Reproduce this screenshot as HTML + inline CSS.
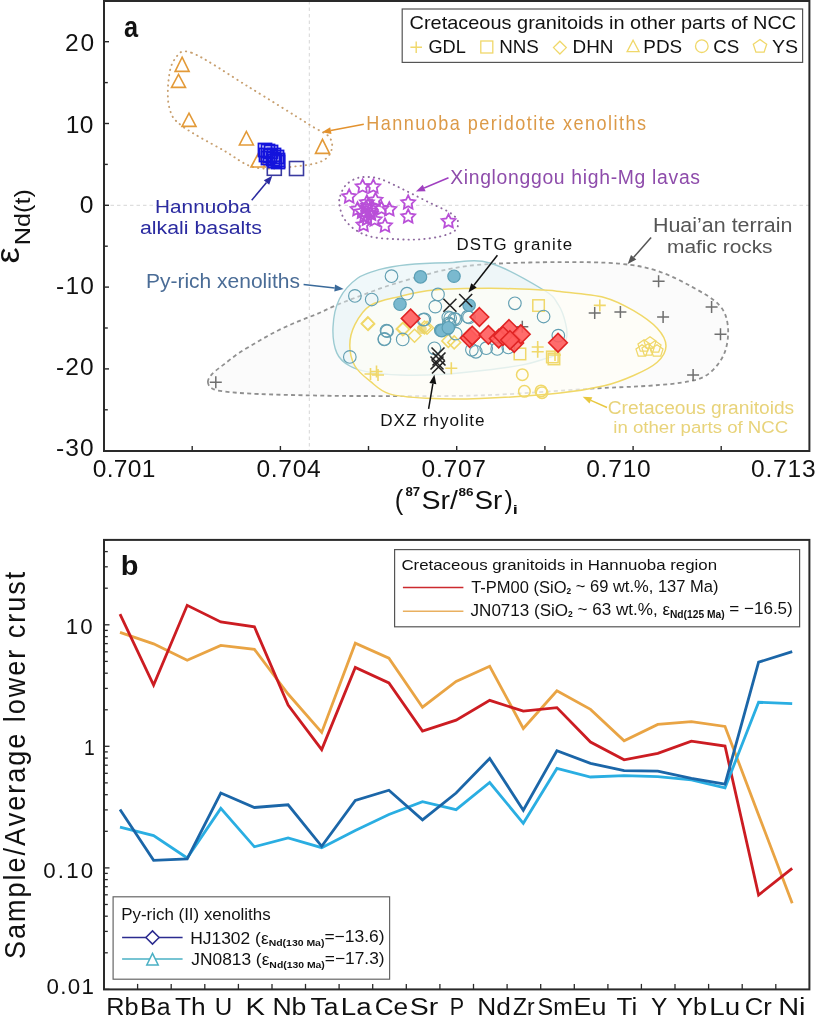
<!DOCTYPE html>
<html><head><meta charset="utf-8"><title>Figure</title>
<style>html,body{margin:0;padding:0;background:#fff;}svg{display:block;}</style>
</head><body>
<svg width="815" height="1016" viewBox="0 0 815 1016" font-family="Liberation Sans, Arial, sans-serif">
<rect width="815" height="1016" fill="#fff"/>
<path d="M207.9,382.3 C207.7,379.9 209.2,377.3 211.8,374.4 C214.4,371.4 219.0,368.2 223.6,364.6 C228.2,361.0 233.4,356.7 239.3,352.8 C245.2,348.9 252.4,344.8 258.9,341.0 C265.4,337.2 271.9,333.5 278.5,330.2 C285.1,326.9 291.6,324.2 298.2,321.4 C304.8,318.6 311.3,316.4 317.8,313.6 C324.3,310.8 330.4,307.6 337.4,304.7 C344.4,301.8 350.2,299.6 360.0,296.0 C369.8,292.4 381.5,287.6 396.1,283.2 C410.7,278.8 431.9,272.6 447.5,269.4 C463.1,266.2 471.2,265.2 490.0,264.0 C508.8,262.8 538.5,262.2 560.0,262.1 C581.5,262.0 602.7,262.1 618.9,263.6 C635.1,265.1 644.9,267.0 657.2,270.9 C669.5,274.8 682.2,281.5 692.5,287.1 C702.8,292.8 713.1,298.4 719.0,304.8 C724.9,311.2 726.8,317.5 727.8,325.4 C728.8,333.2 727.8,344.0 724.9,351.9 C722.0,359.8 716.1,367.6 710.2,372.5 C704.3,377.4 699.9,379.1 689.6,381.3 C679.3,383.5 665.0,384.6 648.3,385.8 C631.6,387.0 617.4,387.1 589.4,388.7 C561.4,390.3 518.2,394.2 480.0,395.4 C441.8,396.6 388.3,396.0 360.0,396.0 C331.7,396.0 326.9,395.7 310.0,395.4 C293.1,395.1 272.3,394.6 258.9,394.0 C245.5,393.4 237.1,392.9 229.4,392.1 C221.8,391.3 216.6,390.6 213.0,389.0 C209.4,387.4 208.1,384.7 207.9,382.3Z" fill="#fbfbfb" stroke="#909090" stroke-width="1.8" stroke-dasharray="4,3.3"/>
<path d="M333.0,327.3 C333.4,318.3 335.3,307.2 339.4,299.0 C343.5,290.8 350.7,283.2 357.5,278.3 C364.3,273.4 371.8,271.7 380.0,269.4 C388.2,267.1 395.8,265.8 407.0,264.7 C418.2,263.6 433.7,263.0 447.5,262.7 C461.3,262.4 474.0,258.4 490.0,263.0 C506.0,267.6 532.2,283.1 543.6,290.0 C555.0,296.9 554.6,299.1 558.3,304.7 C562.0,310.3 564.4,318.2 565.7,323.9 C567.1,329.5 567.6,333.7 566.4,338.6 C565.2,343.5 562.1,349.9 558.3,353.3 C554.5,356.7 549.7,357.2 543.6,359.2 C537.5,361.2 531.3,363.3 521.5,365.1 C511.7,366.9 498.3,368.6 484.7,370.2 C471.1,371.8 454.1,373.7 440.0,374.5 C425.9,375.3 411.6,375.4 400.0,375.0 C388.4,374.6 378.8,373.9 370.4,372.4 C362.0,370.9 355.4,369.2 349.8,366.0 C344.2,362.8 339.7,359.6 336.9,353.1 C334.1,346.7 332.6,336.3 333.0,327.3Z" fill="#e2f1f5" fill-opacity="0.5" stroke="#9ccbd2" stroke-width="1.4"/>
<path d="M349.8,345.3 C349.8,338.4 351.5,331.4 354.9,324.7 C358.3,318.0 362.9,310.1 370.4,305.4 C377.9,300.7 389.4,299.0 400.0,296.4 C410.6,293.8 419.0,291.4 434.0,290.0 C449.0,288.6 471.7,288.3 490.0,288.3 C508.3,288.3 531.9,289.5 543.6,290.0 C555.3,290.5 549.9,290.3 560.0,291.5 C570.1,292.7 591.9,294.2 604.2,297.4 C616.5,300.6 624.8,305.5 633.6,310.7 C642.4,315.9 651.8,322.4 657.2,328.3 C662.6,334.2 666.0,340.4 666.0,346.0 C666.0,351.6 662.6,357.3 657.2,362.2 C651.8,367.1 642.4,371.6 633.6,375.5 C624.8,379.4 616.5,382.9 604.2,385.8 C591.9,388.7 580.7,391.0 560.0,393.1 C539.3,395.2 502.3,397.6 480.0,398.5 C457.7,399.4 441.4,399.1 426.3,398.3 C411.2,397.5 398.7,396.7 389.4,393.9 C380.1,391.1 376.1,386.0 370.4,381.4 C364.6,376.8 358.3,372.0 354.9,366.0 C351.5,360.0 349.8,352.2 349.8,345.3Z" fill="#fffef6" fill-opacity="0.72" stroke="#f0d868" stroke-width="1.5"/>
<line x1="309.3" y1="1.0" x2="309.3" y2="451.0" stroke="#d6d6d6" stroke-width="1" stroke-dasharray="3.5,3"/>
<line x1="104" y1="205.3" x2="809.4" y2="205.3" stroke="#d6d6d6" stroke-width="1" stroke-dasharray="3.5,3"/>
<path d="M191.7,52.8 C204.0,57.3 228.6,74.6 248.2,86.6 C267.8,98.6 296.0,116.3 309.5,124.7 C323.0,133.1 325.5,132.6 329.1,136.9 C332.8,141.2 332.6,146.4 331.4,150.4 C330.2,154.4 327.5,158.6 321.8,161.2 C316.1,163.8 308.2,165.1 297.2,166.2 C286.1,167.3 267.8,170.2 255.5,167.6 C243.2,165.0 235.9,157.3 223.6,150.4 C211.3,143.5 190.9,132.8 181.9,125.9 C172.9,119.0 171.8,116.1 169.6,108.7 C167.3,101.3 167.6,89.9 168.4,81.7 C169.2,73.5 170.6,64.4 174.5,59.6 C178.4,54.8 179.4,48.3 191.7,52.8Z" fill="none" stroke="#c8a070" stroke-width="1.9" stroke-dasharray="0.3,5" stroke-linecap="round"/>
<path d="M340.3,195.8 C341.3,192.7 342.9,188.4 345.5,185.5 C348.1,182.6 352.1,180.0 355.8,178.6 C359.5,177.2 363.5,176.8 367.8,176.9 C372.1,177.0 376.4,177.7 381.5,179.4 C386.6,181.1 393.0,184.5 398.7,187.2 C404.4,189.9 410.2,192.9 415.9,195.8 C421.6,198.7 427.4,201.6 433.1,204.4 C438.8,207.2 446.2,210.1 450.3,212.9 C454.4,215.8 457.3,218.5 458.0,221.5 C458.7,224.5 457.7,228.3 454.7,230.8 C451.7,233.3 445.8,235.1 440.0,236.5 C434.2,237.9 426.9,238.8 420.0,239.3 C413.1,239.8 406.6,239.7 398.7,239.3 C390.8,238.9 380.0,238.6 372.9,237.1 C365.8,235.6 360.7,233.3 355.8,230.1 C350.9,226.9 346.4,222.4 343.7,218.1 C341.0,213.8 340.0,208.1 339.4,204.4 C338.8,200.7 339.3,199.0 340.3,195.8Z" fill="none" stroke="#8f6aa0" stroke-width="1.9" stroke-dasharray="0.3,5" stroke-linecap="round"/>
<path d="M182.1,57.2 L189.1,71.4 L175.1,71.4Z" fill="none" stroke="#e39a38" stroke-width="1.6"/>
<path d="M178.5,74.4 L185.5,87.4 L171.5,87.4Z" fill="none" stroke="#e39a38" stroke-width="1.6"/>
<path d="M189.0,113.1 L196.0,126.4 L182.0,126.4Z" fill="none" stroke="#e39a38" stroke-width="1.6"/>
<path d="M246.4,131.5 L253.4,145.0 L239.4,145.0Z" fill="none" stroke="#e39a38" stroke-width="1.6"/>
<path d="M322.5,139.4 L329.5,153.4 L315.5,153.4Z" fill="none" stroke="#e39a38" stroke-width="1.6"/>
<path d="M258.0,154.0 L265.0,167.0 L251.0,167.0Z" fill="none" stroke="#e39a38" stroke-width="1.6"/>
<rect x="267.3" y="161.3" width="14" height="14" fill="none" stroke="#3a3aa0" stroke-width="1.6"/>
<rect x="289.5" y="161.5" width="14" height="14" fill="none" stroke="#3a3aa0" stroke-width="1.6"/>
<rect x="258.5" y="143.5" width="13" height="13" fill="none" stroke="#1414dc" stroke-width="1.8"/>
<rect x="261.5" y="144.5" width="13" height="13" fill="none" stroke="#1414dc" stroke-width="1.8"/>
<rect x="264.5" y="145.5" width="13" height="13" fill="none" stroke="#1414dc" stroke-width="1.8"/>
<rect x="259.5" y="148.5" width="13" height="13" fill="none" stroke="#1414dc" stroke-width="1.8"/>
<rect x="263.5" y="149.5" width="13" height="13" fill="none" stroke="#1414dc" stroke-width="1.8"/>
<rect x="267.5" y="148.5" width="13" height="13" fill="none" stroke="#1414dc" stroke-width="1.8"/>
<rect x="270.5" y="150.5" width="13" height="13" fill="none" stroke="#1414dc" stroke-width="1.8"/>
<rect x="266.5" y="152.5" width="13" height="13" fill="none" stroke="#1414dc" stroke-width="1.8"/>
<rect x="271.5" y="153.5" width="13" height="13" fill="none" stroke="#1414dc" stroke-width="1.8"/>
<rect x="261.5" y="151.5" width="13" height="13" fill="none" stroke="#1414dc" stroke-width="1.8"/>
<rect x="268.5" y="154.5" width="13" height="13" fill="none" stroke="#1414dc" stroke-width="1.8"/>
<rect x="271.5" y="155.5" width="13" height="13" fill="none" stroke="#1414dc" stroke-width="1.8"/>
<polygon points="362.6,179.5 364.7,183.8 369.5,184.5 366.1,187.9 366.9,192.7 362.6,190.5 358.3,192.7 359.1,187.9 355.7,184.5 360.5,183.8" fill="none" stroke="#b94fd8" stroke-width="1.8" stroke-linejoin="miter"/>
<polygon points="373.3,179.5 375.4,183.8 380.2,184.5 376.8,187.9 377.6,192.7 373.3,190.5 369.0,192.7 369.8,187.9 366.4,184.5 371.2,183.8" fill="none" stroke="#b94fd8" stroke-width="1.8" stroke-linejoin="miter"/>
<polygon points="349.2,189.3 351.3,193.6 356.1,194.3 352.7,197.7 353.5,202.5 349.2,200.2 344.9,202.5 345.7,197.7 342.3,194.3 347.1,193.6" fill="none" stroke="#b94fd8" stroke-width="1.8" stroke-linejoin="miter"/>
<polygon points="366.9,195.3 369.0,199.6 373.8,200.3 370.4,203.7 371.2,208.5 366.9,206.2 362.6,208.5 363.4,203.7 360.0,200.3 364.8,199.6" fill="none" stroke="#b94fd8" stroke-width="1.8" stroke-linejoin="miter"/>
<polygon points="375.5,192.8 377.6,197.1 382.4,197.8 379.0,201.2 379.8,206.0 375.5,203.8 371.2,206.0 372.0,201.2 368.6,197.8 373.4,197.1" fill="none" stroke="#b94fd8" stroke-width="1.8" stroke-linejoin="miter"/>
<polygon points="357.5,202.2 359.6,206.5 364.4,207.2 361.0,210.6 361.8,215.4 357.5,213.2 353.2,215.4 354.0,210.6 350.6,207.2 355.4,206.5" fill="none" stroke="#b94fd8" stroke-width="1.8" stroke-linejoin="miter"/>
<polygon points="369.5,203.9 371.6,208.2 376.4,208.9 373.0,212.3 373.8,217.1 369.5,214.8 365.2,217.1 366.0,212.3 362.6,208.9 367.4,208.2" fill="none" stroke="#b94fd8" stroke-width="1.8" stroke-linejoin="miter"/>
<polygon points="381.5,201.4 383.6,205.7 388.4,206.4 385.0,209.8 385.8,214.6 381.5,212.3 377.2,214.6 378.0,209.8 374.6,206.4 379.4,205.7" fill="none" stroke="#b94fd8" stroke-width="1.8" stroke-linejoin="miter"/>
<polygon points="389.3,202.2 391.4,206.5 396.2,207.2 392.8,210.6 393.6,215.4 389.3,213.2 385.0,215.4 385.8,210.6 382.4,207.2 387.2,206.5" fill="none" stroke="#b94fd8" stroke-width="1.8" stroke-linejoin="miter"/>
<polygon points="364.4,209.1 366.5,213.4 371.3,214.1 367.9,217.5 368.7,222.3 364.4,220.1 360.1,222.3 360.9,217.5 357.5,214.1 362.3,213.4" fill="none" stroke="#b94fd8" stroke-width="1.8" stroke-linejoin="miter"/>
<polygon points="374.7,212.5 376.8,216.8 381.6,217.5 378.2,220.9 379.0,225.7 374.7,223.5 370.4,225.7 371.2,220.9 367.8,217.5 372.6,216.8" fill="none" stroke="#b94fd8" stroke-width="1.8" stroke-linejoin="miter"/>
<polygon points="363.5,217.7 365.6,222.0 370.4,222.7 367.0,226.1 367.8,230.9 363.5,228.7 359.2,230.9 360.0,226.1 356.6,222.7 361.4,222.0" fill="none" stroke="#b94fd8" stroke-width="1.8" stroke-linejoin="miter"/>
<polygon points="385.0,218.5 387.1,222.8 391.9,223.5 388.5,226.9 389.3,231.7 385.0,229.5 380.7,231.7 381.5,226.9 378.1,223.5 382.9,222.8" fill="none" stroke="#b94fd8" stroke-width="1.8" stroke-linejoin="miter"/>
<polygon points="408.2,195.3 410.3,199.6 415.1,200.3 411.7,203.7 412.5,208.5 408.2,206.2 403.9,208.5 404.7,203.7 401.3,200.3 406.1,199.6" fill="none" stroke="#b94fd8" stroke-width="1.8" stroke-linejoin="miter"/>
<polygon points="408.2,209.4 410.3,213.7 415.1,214.4 411.7,217.8 412.5,222.6 408.2,220.3 403.9,222.6 404.7,217.8 401.3,214.4 406.1,213.7" fill="none" stroke="#b94fd8" stroke-width="1.8" stroke-linejoin="miter"/>
<polygon points="448.5,214.2 450.6,218.5 455.4,219.2 452.0,222.6 452.8,227.4 448.5,225.2 444.2,227.4 445.0,222.6 441.6,219.2 446.4,218.5" fill="none" stroke="#b94fd8" stroke-width="1.8" stroke-linejoin="miter"/>
<polygon points="366.0,200.7 368.1,205.0 372.9,205.7 369.5,209.1 370.3,213.9 366.0,211.7 361.7,213.9 362.5,209.1 359.1,205.7 363.9,205.0" fill="none" stroke="#b94fd8" stroke-width="1.8" stroke-linejoin="miter"/>
<polygon points="371.0,206.7 373.1,211.0 377.9,211.7 374.5,215.1 375.3,219.9 371.0,217.7 366.7,219.9 367.5,215.1 364.1,211.7 368.9,211.0" fill="none" stroke="#b94fd8" stroke-width="1.8" stroke-linejoin="miter"/>
<polygon points="368.0,198.7 370.1,203.0 374.9,203.7 371.5,207.1 372.3,211.9 368.0,209.7 363.7,211.9 364.5,207.1 361.1,203.7 365.9,203.0" fill="none" stroke="#b94fd8" stroke-width="1.8" stroke-linejoin="miter"/>
<polygon points="362.0,204.7 364.1,209.0 368.9,209.7 365.5,213.1 366.3,217.9 362.0,215.7 357.7,217.9 358.5,213.1 355.1,209.7 359.9,209.0" fill="none" stroke="#b94fd8" stroke-width="1.8" stroke-linejoin="miter"/>
<polygon points="372.0,199.7 374.1,204.0 378.9,204.7 375.5,208.1 376.3,212.9 372.0,210.7 367.7,212.9 368.5,208.1 365.1,204.7 369.9,204.0" fill="none" stroke="#b94fd8" stroke-width="1.8" stroke-linejoin="miter"/>
<polygon points="367.0,211.7 369.1,216.0 373.9,216.7 370.5,220.1 371.3,224.9 367.0,222.7 362.7,224.9 363.5,220.1 360.1,216.7 364.9,216.0" fill="none" stroke="#b94fd8" stroke-width="1.8" stroke-linejoin="miter"/>
<path d="M209.8,382.2H221.8M215.8,376.2V388.2" stroke="#6f6f6f" stroke-width="1.5" fill="none"/>
<path d="M652.6,281.2H664.6M658.6,275.2V287.2" stroke="#6f6f6f" stroke-width="1.5" fill="none"/>
<path d="M588.7,313.0H600.7M594.7,307.0V319.0" stroke="#6f6f6f" stroke-width="1.5" fill="none"/>
<path d="M614.4,312.1H626.4M620.4,306.1V318.1" stroke="#6f6f6f" stroke-width="1.5" fill="none"/>
<path d="M657.1,317.1H669.1M663.1,311.1V323.1" stroke="#6f6f6f" stroke-width="1.5" fill="none"/>
<path d="M705.6,307.1H717.6M711.6,301.1V313.1" stroke="#6f6f6f" stroke-width="1.5" fill="none"/>
<path d="M714.5,334.2H726.5M720.5,328.2V340.2" stroke="#6f6f6f" stroke-width="1.5" fill="none"/>
<path d="M687.1,374.9H699.1M693.1,368.9V380.9" stroke="#6f6f6f" stroke-width="1.5" fill="none"/>
<path d="M516.3,326.8H528.3M522.3,320.8V332.8" stroke="#6f6f6f" stroke-width="1.5" fill="none"/>
<path d="M368.1,317.5 L374.6,324.0 L368.1,330.5 L361.6,324.0Z" fill="none" fill-opacity="1" stroke="#f0d86a" stroke-width="1.5"/>
<path d="M367.8,316.9 L374.3,323.4 L367.8,329.9 L361.3,323.4Z" fill="none" fill-opacity="1" stroke="#f0d86a" stroke-width="1.5"/>
<path d="M402.7,322.6 L409.2,329.1 L402.7,335.6 L396.2,329.1Z" fill="none" fill-opacity="1" stroke="#f0d86a" stroke-width="1.5"/>
<path d="M414.5,329.3 L421.0,335.8 L414.5,342.3 L408.0,335.8Z" fill="none" fill-opacity="1" stroke="#f0d86a" stroke-width="1.5"/>
<path d="M427.0,321.2 L433.5,327.7 L427.0,334.2 L420.5,327.7Z" fill="none" fill-opacity="1" stroke="#f0d86a" stroke-width="1.5"/>
<path d="M448.3,334.4 L454.8,340.9 L448.3,347.4 L441.8,340.9Z" fill="none" fill-opacity="1" stroke="#f0d86a" stroke-width="1.5"/>
<path d="M454.2,335.9 L460.7,342.4 L454.2,348.9 L447.7,342.4Z" fill="none" fill-opacity="1" stroke="#f0d86a" stroke-width="1.5"/>
<path d="M403.6,322.3 L410.1,328.8 L403.6,335.3 L397.1,328.8Z" fill="none" fill-opacity="1" stroke="#f0d86a" stroke-width="1.5"/>
<path d="M424.5,321.0 L431.0,327.5 L424.5,334.0 L418.0,327.5Z" fill="none" fill-opacity="1" stroke="#f0d86a" stroke-width="1.5"/>
<circle cx="421.8" cy="329.1" r="5" fill="#e8d060" fill-opacity="0.7"/>
<rect x="532.8" y="299.8" width="11.5" height="11.5" fill="none" stroke="#f0d86a" stroke-width="1.5"/>
<rect x="514.2" y="348.2" width="11.5" height="11.5" fill="none" stroke="#f0d86a" stroke-width="1.5"/>
<rect x="546.6" y="351.2" width="11.5" height="11.5" fill="none" stroke="#f0d86a" stroke-width="1.5"/>
<rect x="548.2" y="353.2" width="11.5" height="11.5" fill="none" stroke="#f0d86a" stroke-width="1.5"/>
<path d="M531.7,351.8H543.7M537.7,345.8V357.8" stroke="#f0d86a" stroke-width="1.6" fill="none"/>
<path d="M531.7,347.0H543.7M537.7,341.0V353.0" stroke="#f0d86a" stroke-width="1.6" fill="none"/>
<path d="M445.3,368.2H457.3M451.3,362.2V374.2" stroke="#f0d86a" stroke-width="1.6" fill="none"/>
<path d="M364.5,374.0H376.5M370.5,368.0V380.0" stroke="#f0d86a" stroke-width="1.6" fill="none"/>
<path d="M370.5,371.5H382.5M376.5,365.5V377.5" stroke="#f0d86a" stroke-width="1.6" fill="none"/>
<path d="M372.0,375.0H384.0M378.0,369.0V381.0" stroke="#f0d86a" stroke-width="1.6" fill="none"/>
<path d="M593.8,305.4H605.8M599.8,299.4V311.4" stroke="#f0d86a" stroke-width="1.6" fill="none"/>
<path d="M549.0,355.0H561.0M555.0,349.0V361.0" stroke="#f0d86a" stroke-width="1.6" fill="none"/>
<circle cx="522.3" cy="374.7" r="5.8" fill="none" stroke="#f0d86a" stroke-width="1.5"/>
<circle cx="524.4" cy="391.3" r="5.8" fill="none" stroke="#f0d86a" stroke-width="1.5"/>
<circle cx="542.0" cy="392.7" r="5.8" fill="none" stroke="#f0d86a" stroke-width="1.5"/>
<circle cx="541.0" cy="391.0" r="5.8" fill="none" stroke="#f0d86a" stroke-width="1.5"/>
<polygon points="644.0,339.7 650.0,344.1 647.7,351.1 640.3,351.1 638.0,344.1" fill="none" stroke="#f0d86a" stroke-width="1.3"/>
<polygon points="650.0,336.7 656.0,341.1 653.7,348.1 646.3,348.1 644.0,341.1" fill="none" stroke="#f0d86a" stroke-width="1.3"/>
<polygon points="655.0,340.7 661.0,345.1 658.7,352.1 651.3,352.1 649.0,345.1" fill="none" stroke="#f0d86a" stroke-width="1.3"/>
<polygon points="648.0,343.7 654.0,348.1 651.7,355.1 644.3,355.1 642.0,348.1" fill="none" stroke="#f0d86a" stroke-width="1.3"/>
<polygon points="657.0,344.7 663.0,349.1 660.7,356.1 653.3,356.1 651.0,349.1" fill="none" stroke="#f0d86a" stroke-width="1.3"/>
<polygon points="642.0,344.7 648.0,349.1 645.7,356.1 638.3,356.1 636.0,349.1" fill="none" stroke="#f0d86a" stroke-width="1.3"/>
<circle cx="391.5" cy="276.2" r="6.3" fill="none" stroke="#629fb2" stroke-width="1.15"/>
<circle cx="354.9" cy="295.9" r="6.3" fill="none" stroke="#629fb2" stroke-width="1.15"/>
<circle cx="371.7" cy="299.5" r="6.3" fill="none" stroke="#629fb2" stroke-width="1.15"/>
<circle cx="387.1" cy="331.2" r="6.3" fill="none" stroke="#629fb2" stroke-width="1.15"/>
<circle cx="384.5" cy="338.9" r="6.3" fill="none" stroke="#629fb2" stroke-width="1.15"/>
<circle cx="349.8" cy="356.9" r="6.3" fill="none" stroke="#629fb2" stroke-width="1.15"/>
<circle cx="407.0" cy="293.7" r="6.3" fill="none" stroke="#629fb2" stroke-width="1.15"/>
<circle cx="438.0" cy="294.4" r="6.3" fill="none" stroke="#629fb2" stroke-width="1.15"/>
<circle cx="435.3" cy="306.6" r="6.3" fill="none" stroke="#629fb2" stroke-width="1.15"/>
<circle cx="424.5" cy="319.4" r="6.3" fill="none" stroke="#629fb2" stroke-width="1.15"/>
<circle cx="450.2" cy="318.0" r="6.3" fill="none" stroke="#629fb2" stroke-width="1.15"/>
<circle cx="455.6" cy="319.4" r="6.3" fill="none" stroke="#629fb2" stroke-width="1.15"/>
<circle cx="448.8" cy="323.4" r="6.3" fill="none" stroke="#629fb2" stroke-width="1.15"/>
<circle cx="386.5" cy="330.6" r="6.3" fill="none" stroke="#629fb2" stroke-width="1.15"/>
<circle cx="384.3" cy="339.4" r="6.3" fill="none" stroke="#629fb2" stroke-width="1.15"/>
<circle cx="402.7" cy="339.4" r="6.3" fill="none" stroke="#629fb2" stroke-width="1.15"/>
<circle cx="423.3" cy="319.6" r="6.3" fill="none" stroke="#629fb2" stroke-width="1.15"/>
<circle cx="448.3" cy="317.4" r="6.3" fill="none" stroke="#629fb2" stroke-width="1.15"/>
<circle cx="454.2" cy="318.8" r="6.3" fill="none" stroke="#629fb2" stroke-width="1.15"/>
<circle cx="449.8" cy="324.7" r="6.3" fill="none" stroke="#629fb2" stroke-width="1.15"/>
<circle cx="455.7" cy="333.6" r="6.3" fill="none" stroke="#629fb2" stroke-width="1.15"/>
<circle cx="434.4" cy="348.3" r="6.3" fill="none" stroke="#629fb2" stroke-width="1.15"/>
<circle cx="469.0" cy="317.4" r="6.3" fill="none" stroke="#629fb2" stroke-width="1.15"/>
<circle cx="471.9" cy="349.8" r="6.3" fill="none" stroke="#629fb2" stroke-width="1.15"/>
<circle cx="514.9" cy="303.3" r="6.3" fill="none" stroke="#629fb2" stroke-width="1.15"/>
<circle cx="543.6" cy="316.5" r="6.3" fill="none" stroke="#629fb2" stroke-width="1.15"/>
<circle cx="558.3" cy="335.6" r="6.3" fill="none" stroke="#629fb2" stroke-width="1.15"/>
<circle cx="475.9" cy="351.8" r="6.3" fill="none" stroke="#629fb2" stroke-width="1.15"/>
<circle cx="486.2" cy="348.2" r="6.3" fill="none" stroke="#629fb2" stroke-width="1.15"/>
<circle cx="497.2" cy="348.9" r="6.3" fill="none" stroke="#629fb2" stroke-width="1.15"/>
<circle cx="508.3" cy="347.4" r="6.3" fill="none" stroke="#629fb2" stroke-width="1.15"/>
<circle cx="467.7" cy="316.7" r="6.3" fill="none" stroke="#629fb2" stroke-width="1.15"/>
<circle cx="420.5" cy="276.9" r="6.2" fill="#7ab9cf" stroke="#5b9fb5" stroke-width="1.2"/>
<circle cx="454.0" cy="276.2" r="6.2" fill="#7ab9cf" stroke="#5b9fb5" stroke-width="1.2"/>
<circle cx="400.0" cy="304.3" r="6.2" fill="#7ab9cf" stroke="#5b9fb5" stroke-width="1.2"/>
<circle cx="469.1" cy="305.2" r="6.2" fill="#7ab9cf" stroke="#5b9fb5" stroke-width="1.2"/>
<circle cx="440.7" cy="330.2" r="6.2" fill="#7ab9cf" stroke="#5b9fb5" stroke-width="1.2"/>
<circle cx="447.5" cy="328.8" r="6.2" fill="#7ab9cf" stroke="#5b9fb5" stroke-width="1.2"/>
<circle cx="441.7" cy="330.6" r="6.2" fill="#7ab9cf" stroke="#5b9fb5" stroke-width="1.2"/>
<circle cx="448.3" cy="327.7" r="6.2" fill="#7ab9cf" stroke="#5b9fb5" stroke-width="1.2"/>
<path d="M443.4,298.7L456.4,311.7M456.4,298.7L443.4,311.7" stroke="#222" stroke-width="1.6" fill="none"/>
<path d="M459.2,294.0L472.2,307.0M472.2,294.0L459.2,307.0" stroke="#222" stroke-width="1.6" fill="none"/>
<path d="M431.5,347.5L444.5,360.5M444.5,347.5L431.5,360.5" stroke="#222" stroke-width="1.6" fill="none"/>
<path d="M432.5,352.5L445.5,365.5M445.5,352.5L432.5,365.5" stroke="#222" stroke-width="1.6" fill="none"/>
<path d="M430.5,356.5L443.5,369.5M443.5,356.5L430.5,369.5" stroke="#222" stroke-width="1.6" fill="none"/>
<path d="M432.0,360.5L445.0,373.5M445.0,360.5L432.0,373.5" stroke="#222" stroke-width="1.6" fill="none"/>
<path d="M410.6,309.1 L419.9,318.4 L410.6,327.7 L401.3,318.4Z" fill="#ff5c5c" fill-opacity="0.9" stroke="#e02424" stroke-width="1.6"/>
<path d="M479.4,307.7 L488.7,317.0 L479.4,326.3 L470.1,317.0Z" fill="#ff5c5c" fill-opacity="0.9" stroke="#e02424" stroke-width="1.6"/>
<path d="M469.7,328.7 L479.0,338.0 L469.7,347.3 L460.4,338.0Z" fill="#ff5c5c" fill-opacity="0.9" stroke="#e02424" stroke-width="1.6"/>
<path d="M472.2,326.3 L481.5,335.6 L472.2,344.9 L462.9,335.6Z" fill="#ff5c5c" fill-opacity="0.9" stroke="#e02424" stroke-width="1.6"/>
<path d="M488.4,325.6 L497.7,334.9 L488.4,344.2 L479.1,334.9Z" fill="#ff5c5c" fill-opacity="0.9" stroke="#e02424" stroke-width="1.6"/>
<path d="M498.7,329.3 L508.0,338.6 L498.7,347.9 L489.4,338.6Z" fill="#ff5c5c" fill-opacity="0.9" stroke="#e02424" stroke-width="1.6"/>
<path d="M509.0,319.7 L518.3,329.0 L509.0,338.3 L499.7,329.0Z" fill="#ff5c5c" fill-opacity="0.9" stroke="#e02424" stroke-width="1.6"/>
<path d="M514.2,333.7 L523.5,343.0 L514.2,352.3 L504.9,343.0Z" fill="#ff5c5c" fill-opacity="0.9" stroke="#e02424" stroke-width="1.6"/>
<path d="M520.8,324.9 L530.1,334.2 L520.8,343.5 L511.5,334.2Z" fill="#ff5c5c" fill-opacity="0.9" stroke="#e02424" stroke-width="1.6"/>
<path d="M503.0,326.7 L512.3,336.0 L503.0,345.3 L493.7,336.0Z" fill="#ff5c5c" fill-opacity="0.9" stroke="#e02424" stroke-width="1.6"/>
<path d="M510.0,330.7 L519.3,340.0 L510.0,349.3 L500.7,340.0Z" fill="#ff5c5c" fill-opacity="0.9" stroke="#e02424" stroke-width="1.6"/>
<path d="M558.0,333.4 L567.3,342.7 L558.0,352.0 L548.7,342.7Z" fill="#ff5c5c" fill-opacity="0.9" stroke="#e02424" stroke-width="1.6"/>
<line x1="363.8" y1="124.2" x2="330.8" y2="130.6" stroke="#e3922e" stroke-width="1.5"/>
<path d="M322.0,132.3 L330.2,127.2 L331.5,134.0Z" fill="#e3922e"/>
<line x1="251.7" y1="200.2" x2="266.5" y2="182.6" stroke="#2a2aa0" stroke-width="1.5"/>
<path d="M272.3,175.7 L269.2,184.8 L263.8,180.3Z" fill="#2a2aa0"/>
<line x1="448.5" y1="177.7" x2="424.2" y2="188.0" stroke="#a040c0" stroke-width="1.5"/>
<path d="M415.9,191.5 L422.8,184.8 L425.6,191.2Z" fill="#a040c0"/>
<line x1="303.6" y1="284.5" x2="334.7" y2="287.9" stroke="#3a6a9a" stroke-width="1.5"/>
<path d="M343.6,288.9 L334.3,291.4 L335.0,284.4Z" fill="#3a6a9a"/>
<line x1="497.4" y1="255.2" x2="473.9" y2="285.3" stroke="#111" stroke-width="1.5"/>
<path d="M468.4,292.4 L471.2,283.2 L476.7,287.5Z" fill="#111"/>
<line x1="651.1" y1="237.5" x2="633.7" y2="257.3" stroke="#555" stroke-width="1.5"/>
<path d="M627.7,264.0 L631.0,254.9 L636.3,259.6Z" fill="#555"/>
<line x1="428.6" y1="408.9" x2="432.9" y2="383.7" stroke="#111" stroke-width="1.5"/>
<path d="M434.4,374.8 L436.3,384.3 L429.4,383.1Z" fill="#111"/>
<line x1="607.0" y1="407.5" x2="590.9" y2="400.4" stroke="#e8c840" stroke-width="1.5"/>
<path d="M582.7,396.7 L592.3,397.2 L589.5,403.6Z" fill="#e8c840"/>
<rect x="402.2" y="9" width="400.4" height="53.4" fill="#fff" stroke="#555" stroke-width="1.2"/>
<path d="M410.4,47.3H422.0M416.2,41.5V53.1" stroke="#f0d86a" stroke-width="1.4" fill="none"/>
<rect x="480.8" y="41.0" width="12" height="12" fill="none" stroke="#f0d86a" stroke-width="1.3"/>
<path d="M559.9,41.2 L566.3,47.6 L559.9,54.0 L553.5,47.6Z" fill="none" fill-opacity="1" stroke="#f0d86a" stroke-width="1.3"/>
<path d="M633.1,40.2 L639.1,51.6 L627.1,51.6Z" fill="none" stroke="#f0d86a" stroke-width="1.3" stroke-linejoin="miter"/>
<circle cx="701.8" cy="46.2" r="6.3" fill="none" stroke="#f0d86a" stroke-width="1.3"/>
<polygon points="760.0,39.5 766.7,44.3 764.1,52.2 755.9,52.2 753.3,44.3" fill="none" stroke="#f0d86a" stroke-width="1.3"/>
<rect x="104" y="1.0" width="705.4" height="450.0" fill="none" stroke="#2a2a2a" stroke-width="2"/>
<line x1="104" y1="0.8" x2="107.8" y2="0.8" stroke="#2a2a2a" stroke-width="1.4"/>
<line x1="104" y1="41.7" x2="109" y2="41.7" stroke="#2a2a2a" stroke-width="1.4"/>
<line x1="104" y1="82.6" x2="107.8" y2="82.6" stroke="#2a2a2a" stroke-width="1.4"/>
<line x1="104" y1="123.5" x2="109" y2="123.5" stroke="#2a2a2a" stroke-width="1.4"/>
<line x1="104" y1="164.4" x2="107.8" y2="164.4" stroke="#2a2a2a" stroke-width="1.4"/>
<line x1="104" y1="205.3" x2="109" y2="205.3" stroke="#2a2a2a" stroke-width="1.4"/>
<line x1="104" y1="246.2" x2="107.8" y2="246.2" stroke="#2a2a2a" stroke-width="1.4"/>
<line x1="104" y1="287.1" x2="109" y2="287.1" stroke="#2a2a2a" stroke-width="1.4"/>
<line x1="104" y1="328.0" x2="107.8" y2="328.0" stroke="#2a2a2a" stroke-width="1.4"/>
<line x1="104" y1="368.9" x2="109" y2="368.9" stroke="#2a2a2a" stroke-width="1.4"/>
<line x1="104" y1="409.8" x2="107.8" y2="409.8" stroke="#2a2a2a" stroke-width="1.4"/>
<line x1="104" y1="450.7" x2="109" y2="450.7" stroke="#2a2a2a" stroke-width="1.4"/>
<line x1="192.2" y1="451.0" x2="192.2" y2="446.0" stroke="#2a2a2a" stroke-width="1.4"/>
<line x1="280.4" y1="451.0" x2="280.4" y2="446.0" stroke="#2a2a2a" stroke-width="1.4"/>
<line x1="368.5" y1="451.0" x2="368.5" y2="446.0" stroke="#2a2a2a" stroke-width="1.4"/>
<line x1="456.7" y1="451.0" x2="456.7" y2="446.0" stroke="#2a2a2a" stroke-width="1.4"/>
<line x1="544.9" y1="451.0" x2="544.9" y2="446.0" stroke="#2a2a2a" stroke-width="1.4"/>
<line x1="633.1" y1="451.0" x2="633.1" y2="446.0" stroke="#2a2a2a" stroke-width="1.4"/>
<line x1="721.2" y1="451.0" x2="721.2" y2="446.0" stroke="#2a2a2a" stroke-width="1.4"/>
<g transform="translate(19,263.5) rotate(-90)">
<text x="0" y="0" font-size="34" fill="#111" textLength="16.1" lengthAdjust="spacingAndGlyphs">&#949;</text>
<text x="18.3" y="10.6" font-size="21.7" fill="#111" textLength="56" lengthAdjust="spacingAndGlyphs">Nd(t)</text>
</g>
<polyline points="120.0,632.4 153.6,643.8 187.2,660.3 220.8,645.4 254.4,649.3 288.1,694.0 321.7,732.4 355.3,643.2 388.9,658.2 422.5,707.2 456.1,681.5 489.7,666.3 523.3,728.5 556.9,690.8 590.5,709.4 624.1,740.7 657.8,724.4 691.4,721.6 725.0,726.4 758.6,814.9 792.2,903.3" fill="none" stroke="#e9a444" stroke-width="2.8" stroke-linejoin="miter"/>
<polyline points="120.0,614.2 153.6,685.1 187.2,605.3 220.8,622.0 254.4,626.8 288.1,705.0 321.7,749.6 355.3,667.5 388.9,682.9 422.5,731.1 456.1,720.2 489.7,700.3 523.3,711.2 556.9,707.6 590.5,742.1 624.1,759.8 657.8,753.4 691.4,741.2 725.0,746.0 758.6,895.0 792.2,868.4" fill="none" stroke="#cc1c22" stroke-width="2.8" stroke-linejoin="miter"/>
<polyline points="120.0,827.2 153.6,835.6 187.2,858.0 220.8,808.4 254.4,846.8 288.1,838.0 321.7,847.7 355.3,830.4 388.9,814.5 422.5,801.7 456.1,809.7 489.7,782.5 523.3,823.3 556.9,768.4 590.5,777.0 624.1,775.7 657.8,776.6 691.4,779.8 725.0,787.9 758.6,702.3 792.2,703.7" fill="none" stroke="#2aaee2" stroke-width="2.8" stroke-linejoin="miter"/>
<polyline points="120.0,809.6 153.6,860.3 187.2,858.8 220.8,793.0 254.4,807.5 288.1,804.8 321.7,846.3 355.3,800.4 388.9,790.2 422.5,819.8 456.1,793.0 489.7,758.4 523.3,810.2 556.9,750.7 590.5,763.4 624.1,770.7 657.8,771.1 691.4,778.4 725.0,784.2 758.6,662.2 792.2,651.7" fill="none" stroke="#1b66a8" stroke-width="2.8" stroke-linejoin="miter"/>
<rect x="104" y="539.9" width="705.4" height="449.5" fill="none" stroke="#2a2a2a" stroke-width="2"/>
<line x1="104" y1="989.4" x2="109.5" y2="989.4" stroke="#2a2a2a" stroke-width="1.3"/>
<line x1="104" y1="952.8" x2="107.8" y2="952.8" stroke="#2a2a2a" stroke-width="1.3"/>
<line x1="104" y1="931.4" x2="107.8" y2="931.4" stroke="#2a2a2a" stroke-width="1.3"/>
<line x1="104" y1="916.2" x2="107.8" y2="916.2" stroke="#2a2a2a" stroke-width="1.3"/>
<line x1="104" y1="904.5" x2="107.8" y2="904.5" stroke="#2a2a2a" stroke-width="1.3"/>
<line x1="104" y1="894.8" x2="107.8" y2="894.8" stroke="#2a2a2a" stroke-width="1.3"/>
<line x1="104" y1="886.7" x2="107.8" y2="886.7" stroke="#2a2a2a" stroke-width="1.3"/>
<line x1="104" y1="879.6" x2="107.8" y2="879.6" stroke="#2a2a2a" stroke-width="1.3"/>
<line x1="104" y1="873.4" x2="107.8" y2="873.4" stroke="#2a2a2a" stroke-width="1.3"/>
<line x1="104" y1="867.9" x2="109.5" y2="867.9" stroke="#2a2a2a" stroke-width="1.3"/>
<line x1="104" y1="831.3" x2="107.8" y2="831.3" stroke="#2a2a2a" stroke-width="1.3"/>
<line x1="104" y1="809.9" x2="107.8" y2="809.9" stroke="#2a2a2a" stroke-width="1.3"/>
<line x1="104" y1="794.7" x2="107.8" y2="794.7" stroke="#2a2a2a" stroke-width="1.3"/>
<line x1="104" y1="782.9" x2="107.8" y2="782.9" stroke="#2a2a2a" stroke-width="1.3"/>
<line x1="104" y1="773.3" x2="107.8" y2="773.3" stroke="#2a2a2a" stroke-width="1.3"/>
<line x1="104" y1="765.2" x2="107.8" y2="765.2" stroke="#2a2a2a" stroke-width="1.3"/>
<line x1="104" y1="758.1" x2="107.8" y2="758.1" stroke="#2a2a2a" stroke-width="1.3"/>
<line x1="104" y1="751.9" x2="107.8" y2="751.9" stroke="#2a2a2a" stroke-width="1.3"/>
<line x1="104" y1="746.3" x2="109.5" y2="746.3" stroke="#2a2a2a" stroke-width="1.3"/>
<line x1="104" y1="709.8" x2="107.8" y2="709.8" stroke="#2a2a2a" stroke-width="1.3"/>
<line x1="104" y1="688.4" x2="107.8" y2="688.4" stroke="#2a2a2a" stroke-width="1.3"/>
<line x1="104" y1="673.2" x2="107.8" y2="673.2" stroke="#2a2a2a" stroke-width="1.3"/>
<line x1="104" y1="661.4" x2="107.8" y2="661.4" stroke="#2a2a2a" stroke-width="1.3"/>
<line x1="104" y1="651.8" x2="107.8" y2="651.8" stroke="#2a2a2a" stroke-width="1.3"/>
<line x1="104" y1="643.6" x2="107.8" y2="643.6" stroke="#2a2a2a" stroke-width="1.3"/>
<line x1="104" y1="636.6" x2="107.8" y2="636.6" stroke="#2a2a2a" stroke-width="1.3"/>
<line x1="104" y1="630.4" x2="107.8" y2="630.4" stroke="#2a2a2a" stroke-width="1.3"/>
<line x1="104" y1="624.8" x2="109.5" y2="624.8" stroke="#2a2a2a" stroke-width="1.3"/>
<line x1="104" y1="588.2" x2="107.8" y2="588.2" stroke="#2a2a2a" stroke-width="1.3"/>
<line x1="104" y1="566.8" x2="107.8" y2="566.8" stroke="#2a2a2a" stroke-width="1.3"/>
<line x1="104" y1="551.6" x2="107.8" y2="551.6" stroke="#2a2a2a" stroke-width="1.3"/>
<line x1="104" y1="539.9" x2="107.8" y2="539.9" stroke="#2a2a2a" stroke-width="1.3"/>
<line x1="137.6" y1="989.4" x2="137.6" y2="983.9" stroke="#2a2a2a" stroke-width="1.3"/>
<line x1="171.2" y1="989.4" x2="171.2" y2="983.9" stroke="#2a2a2a" stroke-width="1.3"/>
<line x1="204.8" y1="989.4" x2="204.8" y2="983.9" stroke="#2a2a2a" stroke-width="1.3"/>
<line x1="238.4" y1="989.4" x2="238.4" y2="983.9" stroke="#2a2a2a" stroke-width="1.3"/>
<line x1="272.0" y1="989.4" x2="272.0" y2="983.9" stroke="#2a2a2a" stroke-width="1.3"/>
<line x1="305.5" y1="989.4" x2="305.5" y2="983.9" stroke="#2a2a2a" stroke-width="1.3"/>
<line x1="339.1" y1="989.4" x2="339.1" y2="983.9" stroke="#2a2a2a" stroke-width="1.3"/>
<line x1="372.7" y1="989.4" x2="372.7" y2="983.9" stroke="#2a2a2a" stroke-width="1.3"/>
<line x1="406.3" y1="989.4" x2="406.3" y2="983.9" stroke="#2a2a2a" stroke-width="1.3"/>
<line x1="439.9" y1="989.4" x2="439.9" y2="983.9" stroke="#2a2a2a" stroke-width="1.3"/>
<line x1="473.5" y1="989.4" x2="473.5" y2="983.9" stroke="#2a2a2a" stroke-width="1.3"/>
<line x1="507.1" y1="989.4" x2="507.1" y2="983.9" stroke="#2a2a2a" stroke-width="1.3"/>
<line x1="540.7" y1="989.4" x2="540.7" y2="983.9" stroke="#2a2a2a" stroke-width="1.3"/>
<line x1="574.3" y1="989.4" x2="574.3" y2="983.9" stroke="#2a2a2a" stroke-width="1.3"/>
<line x1="607.9" y1="989.4" x2="607.9" y2="983.9" stroke="#2a2a2a" stroke-width="1.3"/>
<line x1="641.4" y1="989.4" x2="641.4" y2="983.9" stroke="#2a2a2a" stroke-width="1.3"/>
<line x1="675.0" y1="989.4" x2="675.0" y2="983.9" stroke="#2a2a2a" stroke-width="1.3"/>
<line x1="708.6" y1="989.4" x2="708.6" y2="983.9" stroke="#2a2a2a" stroke-width="1.3"/>
<line x1="742.2" y1="989.4" x2="742.2" y2="983.9" stroke="#2a2a2a" stroke-width="1.3"/>
<line x1="775.8" y1="989.4" x2="775.8" y2="983.9" stroke="#2a2a2a" stroke-width="1.3"/>
<text transform="translate(24.6,959.0) rotate(-90) scale(0.92,1)" x="0" y="0" font-size="29.4" fill="#111" textLength="421" lengthAdjust="spacing">Sample/Average lower crust</text>
<rect x="394.6" y="549.6" width="405" height="77.2" fill="#fff" stroke="#555" stroke-width="1.2"/>
<line x1="402.9" y1="587.5" x2="463.4" y2="587.5" stroke="#cc2a2e" stroke-width="1.4"/>
<line x1="402.9" y1="611.3" x2="463.4" y2="611.3" stroke="#e9b060" stroke-width="1.4"/>
<rect x="113.1" y="896.8" width="276.5" height="82.4" fill="#fff" stroke="#666" stroke-width="1.2"/>
<line x1="122.1" y1="937.5" x2="182.6" y2="937.5" stroke="#2b2b8f" stroke-width="1.5"/>
<path d="M152.5,930.9 L159.1,937.5 L152.5,944.1 L145.9,937.5Z" fill="#fff" fill-opacity="1" stroke="#2b2b8f" stroke-width="1.5"/>
<line x1="122.1" y1="958.9" x2="182.6" y2="958.9" stroke="#4ab0c4" stroke-width="1.5"/>
<path d="M152.5,953.4 L158.2,965 L146.8,965Z" fill="#fff" stroke="#4ab0c4" stroke-width="1.5"/>
<text x="65.06" y="51.10" font-size="24.52" fill="#111" textLength="28.98" lengthAdjust="spacing">20</text>
<text x="65.80" y="132.50" font-size="24.52" fill="#111" textLength="27.61" lengthAdjust="spacing">10</text>
<text x="79.75" y="213.30" font-size="24.52" fill="#111" textLength="13.71" lengthAdjust="spacingAndGlyphs">0</text>
<text x="56.09" y="294.30" font-size="24.52" fill="#111" textLength="37.90" lengthAdjust="spacing">-10</text>
<text x="56.09" y="375.40" font-size="24.52" fill="#111" textLength="37.54" lengthAdjust="spacing">-20</text>
<text x="56.09" y="455.80" font-size="24.52" fill="#111" textLength="37.55" lengthAdjust="spacing">-30</text>
<text x="92.75" y="476.60" font-size="24.52" fill="#111" textLength="62.54" lengthAdjust="spacing">0.701</text>
<text x="256.56" y="476.60" font-size="24.52" fill="#111" textLength="64.02" lengthAdjust="spacing">0.704</text>
<text x="421.51" y="476.60" font-size="24.52" fill="#111" textLength="64.48" lengthAdjust="spacing">0.707</text>
<text x="586.19" y="476.60" font-size="24.52" fill="#111" textLength="64.55" lengthAdjust="spacing">0.710</text>
<text x="750.98" y="476.60" font-size="24.52" fill="#111" textLength="64.62" lengthAdjust="spacing">0.713</text>
<text x="124.03" y="36.80" font-size="30.30" fill="#111" textLength="14.07" lengthAdjust="spacingAndGlyphs" font-weight="bold">a</text>
<text transform="translate(366.26,130.30) scale(0.93,1)" x="0" y="0" font-size="19.45" fill="#dc9a48" textLength="300.85" lengthAdjust="spacing">Hannuoba peridotite xenoliths</text>
<text x="155.11" y="213.00" font-size="19.01" fill="#2a2aa0" textLength="95.71" lengthAdjust="spacingAndGlyphs">Hannuoba</text>
<text x="140.00" y="234.20" font-size="17.95" fill="#2a2aa0" textLength="121.93" lengthAdjust="spacingAndGlyphs">alkali basalts</text>
<text x="450.13" y="184.00" font-size="19.37" fill="#8e4cab" textLength="249.92" lengthAdjust="spacing">Xinglonggou high-Mg lavas</text>
<text x="145.98" y="287.60" font-size="21.13" fill="#4a6c96" textLength="153.97" lengthAdjust="spacingAndGlyphs">Py-rich xenoliths</text>
<text x="456.43" y="249.80" font-size="16.86" fill="#111" textLength="115.72" lengthAdjust="spacing">DSTG granite</text>
<text x="652.95" y="232.30" font-size="19.64" fill="#555" textLength="139.54" lengthAdjust="spacingAndGlyphs">Huai&#8217;an terrain</text>
<text x="667.02" y="252.90" font-size="19.02" fill="#555" textLength="105.55" lengthAdjust="spacingAndGlyphs">mafic rocks</text>
<text x="380.32" y="426.10" font-size="17.12" fill="#111" textLength="104.23" lengthAdjust="spacing">DXZ rhyolite</text>
<text x="607.76" y="414.20" font-size="17.60" fill="#e8d37a" textLength="186.44" lengthAdjust="spacingAndGlyphs">Cretaceous granitoids</text>
<text x="613.26" y="433.40" font-size="17.20" fill="#e8d37a" textLength="174.97" lengthAdjust="spacingAndGlyphs">in other parts of NCC</text>
<text x="409.58" y="29.00" font-size="17.56" fill="#111" textLength="386.66" lengthAdjust="spacingAndGlyphs">Cretaceous granitoids in other parts of NCC</text>
<text x="428.50" y="52.50" font-size="18.80" fill="#111" textLength="37.30" lengthAdjust="spacingAndGlyphs">GDL</text>
<text x="499.20" y="52.50" font-size="18.80" fill="#111" textLength="39.73" lengthAdjust="spacingAndGlyphs">NNS</text>
<text x="572.54" y="52.50" font-size="18.80" fill="#111" textLength="40.91" lengthAdjust="spacingAndGlyphs">DHN</text>
<text x="643.37" y="52.50" font-size="18.80" fill="#111" textLength="38.82" lengthAdjust="spacingAndGlyphs">PDS</text>
<text x="713.30" y="52.50" font-size="18.80" fill="#111" textLength="26.11" lengthAdjust="spacingAndGlyphs">CS</text>
<text x="771.99" y="52.50" font-size="18.80" fill="#111" textLength="26.16" lengthAdjust="spacingAndGlyphs">YS</text>
<text x="394.87" y="508.90" font-size="26.92" fill="#111" textLength="8.52" lengthAdjust="spacingAndGlyphs">(</text>
<text x="405.53" y="495.50" font-size="12.26" fill="#111" textLength="14.65" lengthAdjust="spacingAndGlyphs" font-weight="bold">87</text>
<text x="421.58" y="509.00" font-size="25.14" fill="#111" textLength="36.41" lengthAdjust="spacingAndGlyphs">Sr/</text>
<text x="458.58" y="495.90" font-size="11.19" fill="#111" textLength="15.07" lengthAdjust="spacingAndGlyphs" font-weight="bold">86</text>
<text x="474.57" y="509.00" font-size="25.14" fill="#111" textLength="27.83" lengthAdjust="spacingAndGlyphs">Sr</text>
<text x="504.54" y="508.90" font-size="24.88" fill="#111" textLength="-0.00" lengthAdjust="spacingAndGlyphs">)</text>
<text x="512.81" y="513.80" font-size="12.94" fill="#111" textLength="5.11" lengthAdjust="spacingAndGlyphs" font-weight="bold">i</text>
<text x="120.82" y="574.60" font-size="27.22" fill="#111" textLength="17.69" lengthAdjust="spacingAndGlyphs" font-weight="bold">b</text>
<text x="65.79" y="633.50" font-size="22.30" fill="#111" textLength="26.98" lengthAdjust="spacing">10</text>
<text x="84.10" y="754.80" font-size="22.30" fill="#111" textLength="10.71" lengthAdjust="spacingAndGlyphs">1</text>
<text x="43.23" y="878.00" font-size="22.30" fill="#111" textLength="50.04" lengthAdjust="spacing">0.10</text>
<text x="46.54" y="993.90" font-size="22.30" fill="#111" textLength="47.26" lengthAdjust="spacing">0.01</text>
<text x="401.41" y="570.30" font-size="15.28" fill="#111" textLength="315.67" lengthAdjust="spacingAndGlyphs">Cretaceous granitoids in Hannuoba region</text>
<text x="471.18" y="592.70" font-size="16.71" fill="#111" textLength="247.30" lengthAdjust="spacingAndGlyphs">T-PM00 (SiO<tspan font-size="0.5em" font-weight="bold" dy="0.12em">2</tspan><tspan dy="-0.12em"> ~ 69 wt.%, 137 Ma)</tspan></text>
<text x="470.55" y="616.20" font-size="16.71" fill="#111" textLength="322.25" lengthAdjust="spacingAndGlyphs">JN0713 (SiO<tspan font-size="0.5em" font-weight="bold" dy="0.12em">2</tspan><tspan dy="-0.12em"> ~ 63 wt.%,  &#949;</tspan><tspan font-size="0.6em" font-weight="bold" dy="0.25em">Nd(125 Ma)</tspan><tspan dy="-0.25em"> = &#8722;16.5)</tspan></text>
<text x="121.23" y="919.80" font-size="17.04" fill="#111" textLength="149.43" lengthAdjust="spacingAndGlyphs">Py-rich (II) xenoliths</text>
<text x="190.18" y="943.60" font-size="16.51" fill="#111" textLength="194.34" lengthAdjust="spacingAndGlyphs">HJ1302 (&#949;<tspan font-size="0.6em" font-weight="bold" dy="0.25em">Nd(130 Ma)</tspan><tspan dy="-0.25em">=&#8722;13.6)</tspan></text>
<text x="191.32" y="965.20" font-size="16.51" fill="#111" textLength="193.24" lengthAdjust="spacingAndGlyphs">JN0813 (&#949;<tspan font-size="0.6em" font-weight="bold" dy="0.25em">Nd(130 Ma)</tspan><tspan dy="-0.25em">=&#8722;17.3)</tspan></text>
<text x="106.22" y="1014.60" font-size="24.08" fill="#111" textLength="32.26" lengthAdjust="spacingAndGlyphs">Rb</text>
<text x="140.07" y="1014.60" font-size="24.08" fill="#111" textLength="30.38" lengthAdjust="spacingAndGlyphs">Ba</text>
<text x="175.01" y="1014.60" font-size="24.08" fill="#111" textLength="30.74" lengthAdjust="spacingAndGlyphs">Th</text>
<text x="214.88" y="1014.60" font-size="24.08" fill="#111" textLength="17.48" lengthAdjust="spacingAndGlyphs">U</text>
<text x="245.62" y="1014.60" font-size="24.08" fill="#111" textLength="19.45" lengthAdjust="spacingAndGlyphs">K</text>
<text x="272.42" y="1014.60" font-size="24.08" fill="#111" textLength="34.00" lengthAdjust="spacingAndGlyphs">Nb</text>
<text x="310.53" y="1014.60" font-size="24.08" fill="#111" textLength="27.99" lengthAdjust="spacingAndGlyphs">Ta</text>
<text x="340.75" y="1014.60" font-size="24.08" fill="#111" textLength="30.83" lengthAdjust="spacingAndGlyphs">La</text>
<text x="374.65" y="1014.60" font-size="24.08" fill="#111" textLength="33.47" lengthAdjust="spacingAndGlyphs">Ce</text>
<text x="409.85" y="1014.60" font-size="24.08" fill="#111" textLength="28.50" lengthAdjust="spacingAndGlyphs">Sr</text>
<text x="449.86" y="1014.60" font-size="24.08" fill="#111" textLength="14.33" lengthAdjust="spacingAndGlyphs">P</text>
<text x="477.16" y="1014.60" font-size="24.08" fill="#111" textLength="33.59" lengthAdjust="spacingAndGlyphs">Nd</text>
<text x="513.00" y="1014.60" font-size="24.08" fill="#111" textLength="21.62" lengthAdjust="spacingAndGlyphs">Zr</text>
<text x="537.51" y="1014.60" font-size="24.08" fill="#111" textLength="35.19" lengthAdjust="spacingAndGlyphs">Sm</text>
<text x="573.60" y="1014.60" font-size="24.08" fill="#111" textLength="32.94" lengthAdjust="spacingAndGlyphs">Eu</text>
<text x="616.61" y="1014.60" font-size="24.08" fill="#111" textLength="20.62" lengthAdjust="spacingAndGlyphs">Ti</text>
<text x="650.93" y="1014.60" font-size="24.08" fill="#111" textLength="16.37" lengthAdjust="spacingAndGlyphs">Y</text>
<text x="676.24" y="1014.60" font-size="24.08" fill="#111" textLength="30.84" lengthAdjust="spacingAndGlyphs">Yb</text>
<text x="709.32" y="1014.60" font-size="24.08" fill="#111" textLength="30.84" lengthAdjust="spacingAndGlyphs">Lu</text>
<text x="744.77" y="1014.60" font-size="24.08" fill="#111" textLength="27.09" lengthAdjust="spacingAndGlyphs">Cr</text>
<text x="778.17" y="1014.60" font-size="24.08" fill="#111" textLength="27.36" lengthAdjust="spacingAndGlyphs">Ni</text>
</svg>
</body></html>
